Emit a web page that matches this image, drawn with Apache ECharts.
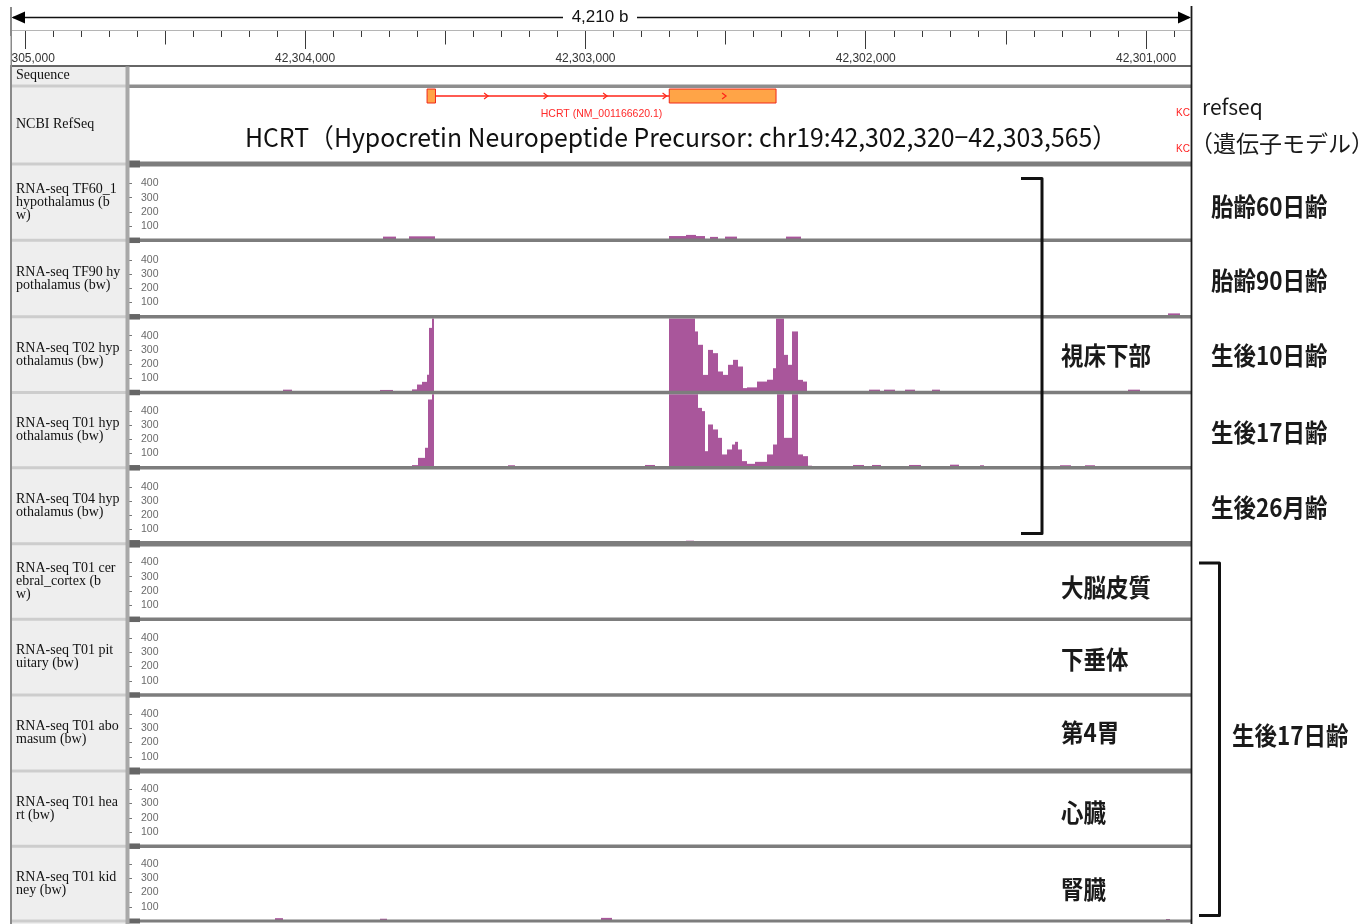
<!DOCTYPE html>
<html><head><meta charset="utf-8">
<script src="https://cdn.jsdelivr.net/npm/echarts@6/dist/echarts.min.js"></script>
<style>html,body{margin:0;padding:0;background:#fff}#c{width:1369px;height:924px}</style>
</head><body><div id="c"></div>
<script>
// ================= DATA =================
const VIEW_START = 42300836;          // genomic position at the right edge (view is reversed)
const VIEW_END   = 42305053;          // genomic position at the left edge
const SPAN_LABEL = '4,210 b';
const RULER_MIN = 42300900, RULER_MAX = 42305000;
const RULER_LABEL_MIN = 42301000;
const MINOR_STEP = 100, MID_STEP = 500, MAJOR_STEP = 1000;
const Y_TICKS = [100, 200, 300, 400];

const GENE_SPAN = [[42302320, 42303565, 0]];
const GENE_EXONS = [[42303535, 42303565], [42302320, 42302701]];
const GENE_INTRONS = [[42302701, 42303565]];
const GENE_NAME = 'HCRT (NM_001166620.1)';
const GENE_TITLE = 'HCRT（Hypocretin Neuropeptide Precursor: chr19:42,302,320−42,303,565）';
const NEIGHBOR_GENE = 'KC';

const TRACK_LABELS = [
  'RNA-seq TF60_1\nhypothalamus (b\nw)',
  'RNA-seq TF90 hy\npothalamus (bw)',
  'RNA-seq T02 hyp\nothalamus (bw)',
  'RNA-seq T01 hyp\nothalamus (bw)',
  'RNA-seq T04 hyp\nothalamus (bw)',
  'RNA-seq T01 cer\nebral_cortex (b\nw)',
  'RNA-seq T01 pit\nuitary (bw)',
  'RNA-seq T01 abo\nmasum (bw)',
  'RNA-seq T01 hea\nrt (bw)',
  'RNA-seq T01 kid\nney (bw)'
];
const OTHER_LABELS = ['Sequence', 'NCBI RefSeq'];

// coverage bins: [start, end, reads]
const cov_TF60_1 = [
  [42303676, 42303722, 26], [42303537, 42303629, 28], [42302641, 42302702, 30],
  [42302606, 42302641, 38], [42302573, 42302606, 30], [42302527, 42302556, 24],
  [42302459, 42302502, 26], [42302231, 42302284, 26]
];
const cov_TF90 = [[42300879, 42300922, 24]];
const cov_T02 = [
  [42304047, 42304079, 20], [42303687, 42303733, 18], [42303602, 42303620, 22],
  [42303584, 42303602, 56], [42303566, 42303584, 75], [42303558, 42303566, 125],
  [42303548, 42303558, 455], [42303540, 42303548, 560],
  [42302609, 42302701, 640], [42302597, 42302609, 430], [42302580, 42302597, 336],
  [42302562, 42302580, 124], [42302544, 42302562, 300], [42302526, 42302544, 277],
  [42302508, 42302526, 148], [42302490, 42302508, 124], [42302473, 42302490, 195],
  [42302455, 42302473, 230], [42302437, 42302455, 183], [42302425, 42302437, 31],
  [42302389, 42302425, 36], [42302353, 42302389, 77], [42302330, 42302353, 90],
  [42302320, 42302330, 171], [42302292, 42302320, 560], [42302276, 42302292, 265],
  [42302262, 42302276, 195], [42302241, 42302262, 430], [42302223, 42302241, 89],
  [42302208, 42302223, 77],
  [42301949, 42301988, 20], [42301896, 42301935, 20], [42301824, 42301860, 20],
  [42301735, 42301764, 20], [42301022, 42301064, 20]
];
const cov_T01_hyp = [
  [42303597, 42303620, 19], [42303573, 42303597, 70], [42303562, 42303573, 141],
  [42303548, 42303562, 481], [42303540, 42303548, 560], [42303251, 42303276, 18],
  [42302752, 42302788, 20],
  [42302597, 42302701, 640], [42302585, 42302597, 422], [42302573, 42302585, 399],
  [42302562, 42302573, 117], [42302544, 42302562, 305], [42302526, 42302544, 270],
  [42302514, 42302526, 211], [42302496, 42302514, 94], [42302478, 42302496, 129],
  [42302466, 42302478, 164], [42302455, 42302466, 183], [42302443, 42302455, 129],
  [42302425, 42302443, 47], [42302395, 42302425, 28], [42302353, 42302395, 42],
  [42302330, 42302353, 94], [42302318, 42302330, 164], [42302292, 42302318, 560],
  [42302262, 42302292, 211], [42302241, 42302262, 560], [42302225, 42302241, 94],
  [42302205, 42302225, 82], [42302193, 42302205, 15],
  [42302006, 42302045, 20], [42301946, 42301978, 20], [42301803, 42301846, 20],
  [42301667, 42301699, 22], [42301578, 42301592, 18], [42301268, 42301307, 18],
  [42301182, 42301218, 18]
];
const cov_T04 = [[42304125, 42304161, 20], [42302613, 42302641, 22]];
const cov_cortex = [];
const cov_pituitary = [];
const cov_abomasum = [];
const cov_heart = [];
const cov_kidney = [[42304079, 42304108, 20], [42303708, 42303733, 16], [42302905, 42302945, 22], [42300914, 42300929, 14]];
const COVERAGE = [cov_TF60_1, cov_TF90, cov_T02, cov_T01_hyp, cov_T04, cov_cortex, cov_pituitary, cov_abomasum, cov_heart, cov_kidney];

const STAGE_LABELS = ['胎齢60日齢', '胎齢90日齢', '生後10日齢', '生後17日齢', '生後26月齢'];
const TISSUE_LABELS = ['大脳皮質', '下垂体', '第4胃', '心臓', '腎臓'];
const GROUP_HYPO = '視床下部';
const GROUP_P17 = '生後17日齢';
const REFSEQ_NOTE = ['refseq', '（遺伝子モデル）'];

// ================= LAYOUT =================
const LEFT = 10, RIGHT = 1192, DATA_LEFT = 128;
const K = (RIGHT - LEFT) / (VIEW_END - VIEW_START);
const px = p => LEFT + (VIEW_END - p) * K;
const DATA_MAX = VIEW_END - (DATA_LEFT - LEFT) / K;
const PX_PER_UNIT = 0.142;
const B  = [164, 240.3, 316.8, 392.5, 467.8, 543.8, 619.3, 695, 771, 846.2, 921];
const BW = [5, 3.5, 3.5, 3.5, 3.5, 5.5, 3.5, 3.5, 5, 3.5, 3];
const STAGE_Y = [206, 280, 355, 432, 507];
const TISSUE_Y = [587, 659, 732, 812, 889];
const COLOR = '#a9569b';
const CJK = '"Noto Sans CJK JP"';

const grids = [], xAxes = [], yAxes = [], series = [];
const gridOf = (left, width, top, height) => ({left, width, top, height, containLabel: false, outerBoundsMode: 'none'});

function rulerAxis(min, max, interval, tickLen, showLabels) {
  const gi = grids.length;
  grids.push(gridOf(px(max), px(min) - px(max), 30.5, 30));
  xAxes.push({gridIndex: gi, type: 'value', min, max, interval, inverse: true, position: 'top',
    axisLine: {show: false, onZero: false}, splitLine: {show: false},
    axisTick: {show: true, inside: true, length: tickLen, lineStyle: {color: '#3a3a3a', width: 1}},
    axisLabel: showLabels ? {show: true, inside: true, margin: 22, fontSize: 12, color: '#333',
      fontFamily: 'Liberation Sans', showMinLabel: true, showMaxLabel: true, hideOverlap: false,
      formatter: v => v.toLocaleString('en-US')} : {show: false}
  });
  yAxes.push({gridIndex: gi, show: false, min: 0, max: 1});
}
rulerAxis(RULER_MIN, RULER_MAX, MINOR_STEP, 6.5, false);
rulerAxis(RULER_LABEL_MIN, RULER_MAX, MID_STEP, 14, false);
rulerAxis(RULER_LABEL_MIN, RULER_MAX, MAJOR_STEP, 18.5, true);

// gene track
const geneGrid = grids.length;
grids.push(gridOf(DATA_LEFT, RIGHT - DATA_LEFT, 88, 73));
xAxes.push({gridIndex: geneGrid, type: 'value', min: VIEW_START, max: DATA_MAX, inverse: true, show: false});
yAxes.push({gridIndex: geneGrid, type: 'value', min: 0, max: 1, show: false});
series.push({
  type: 'custom', xAxisIndex: geneGrid, yAxisIndex: geneGrid, data: GENE_SPAN, silent: true,
  encode: {x: [0, 1], y: 2},
  renderItem(params, api) {
    const cs = params.coordSys;
    const cy = cs.y + 8;
    const a = api.coord([api.value(0), 0])[0], b = api.coord([api.value(1), 0])[0];
    const left = Math.min(a, b), right = Math.max(a, b);
    const ch = [];
    GENE_INTRONS.forEach(([s, e]) => {
      const p = api.coord([s, 0])[0], q = api.coord([e, 0])[0];
      ch.push({type: 'line', shape: {x1: Math.min(p, q), y1: cy, x2: Math.max(p, q), y2: cy},
        style: {stroke: '#ff2418', lineWidth: 1.5}});
    });
    GENE_EXONS.forEach(([s, e]) => {
      const p = api.coord([s, 0])[0], q = api.coord([e, 0])[0];
      ch.push({type: 'rect', shape: {x: Math.min(p, q), y: cy - 7, width: Math.abs(q - p), height: 14},
        style: {fill: '#ffa447', stroke: '#f0281a', lineWidth: 1}});
    });
    for (let x = left + 60; x < right - 20; x += 59.5) {
      ch.push({type: 'polyline', shape: {points: [[x - 3, cy - 3], [x + 1, cy], [x - 3, cy + 3]]},
        style: {stroke: '#ff2418', fill: null, lineWidth: 1.2}});
    }
    ch.push({type: 'text', style: {text: GENE_NAME, x: (left + right) / 2, y: cy + 18, align: 'center',
      verticalAlign: 'middle', fill: '#ff2a2a', font: '10.5px "Liberation Sans"'}});
    return {type: 'group', children: ch};
  }
});

function covRender(params, api) {
  const a = api.coord([api.value(0), api.value(2)]);
  const b = api.coord([api.value(1), 0]);
  const x0 = Math.round(Math.min(a[0], b[0])), x1 = Math.round(Math.max(a[0], b[0]));
  const cs = params.coordSys;
  const shape = echarts.graphic.clipRectByRect(
    {x: x0, y: a[1], width: Math.max(1, x1 - x0), height: b[1] - a[1]},
    {x: cs.x, y: cs.y, width: cs.width, height: cs.height});
  return shape ? {type: 'rect', shape, style: {fill: COLOR}} : null;
}

COVERAGE.forEach((data, i) => {
  const gi = grids.length;
  const top = B[i] + BW[i] / 2, bottom = B[i + 1];
  grids.push(gridOf(DATA_LEFT, RIGHT - DATA_LEFT, top, bottom - top));
  xAxes.push({gridIndex: gi, type: 'value', min: VIEW_START, max: DATA_MAX, inverse: true, show: false});
  yAxes.push({gridIndex: gi, type: 'value', min: 0, max: (bottom - top) / PX_PER_UNIT, position: 'left',
    axisLine: {show: false}, splitLine: {show: false},
    axisTick: {show: true, inside: true, length: 4, customValues: Y_TICKS, lineStyle: {color: '#777'}},
    axisLabel: {show: true, inside: true, margin: 13, customValues: Y_TICKS, fontSize: 10.5,
      color: '#6a6a6a', fontFamily: 'Liberation Sans'}});
  series.push({type: 'custom', xAxisIndex: gi, yAxisIndex: gi, data, silent: true,
    encode: {x: [0, 1], y: 2}, renderItem: covRender});
});

// ================= DECORATION =================
const G = [];
const rect = (x, y, w, h, fill, z) => G.push({type: 'rect', z: z || 1, silent: true, shape: {x, y, width: w, height: h}, style: {fill}});
const line = (x1, y1, x2, y2, stroke, w, z) => G.push({type: 'line', z: z || 5, silent: true, shape: {x1, y1, x2, y2}, style: {stroke, lineWidth: w}});
const text = (t, x, y, font, fill, align, extra) => G.push(Object.assign({type: 'text', z: 30, silent: true, x, y,
  style: {text: t, font, fill, align: align || 'left', verticalAlign: 'middle'}}, extra || {}));

// label column
rect(12, 66.5, 114, 858, '#eeeeee', 0);
// ruler
line(LEFT, 30.5, RIGHT, 30.5, '#b5b5b5', 1, 5);
line(LEFT, 66, RIGHT, 66, '#333', 1.5, 12);
line(13, 17.5, 563, 17.5, '#111', 1.5, 5);
line(637, 17.5, 1189, 17.5, '#111', 1.5, 5);
G.push({type: 'polygon', z: 6, silent: true, shape: {points: [[11.5, 17.5], [25, 11.5], [25, 23.5]]}, style: {fill: '#000'}});
G.push({type: 'polygon', z: 6, silent: true, shape: {points: [[1191, 17.5], [1178, 11.5], [1178, 23.5]]}, style: {fill: '#000'}});
text(SPAN_LABEL, 600, 17.5, '17px "Liberation Sans"', '#111', 'center');
rect(0, 36, 10.5, 29, '#fff', 25);
// sequence / refseq separator
rect(DATA_LEFT, 84.5, RIGHT - DATA_LEFT, 3.5, '#8e8e8e', 10);
rect(12, 84.5, 114, 3, '#cdcdcd', 2);
// track borders
B.forEach((y, i) => {
  rect(DATA_LEFT, y - BW[i] / 2, RIGHT - DATA_LEFT, BW[i], '#7d7d7d', 10);
  rect(129, y - BW[i] / 2 - 1, 11, BW[i] + 2, '#666', 11);
  rect(12, y - 1.5, 114, 3, '#cdcdcd', 2);
});
// frame lines
rect(125.5, 66.5, 4, 858, '#a8a8a8', 12);
line(11, 7, 11, 924, '#8a8a8a', 2, 12);
line(1191.5, 6, 1191.5, 924, '#1a1a1a', 1.8, 12);

// left labels
const SERIF = '14px "Liberation Serif"';
text(OTHER_LABELS[0], 16, 75, SERIF, '#111');
text(OTHER_LABELS[1], 16, 124, SERIF, '#111');
TRACK_LABELS.forEach((t, i) => {
  G.push({type: 'text', z: 30, silent: true, x: 16, y: (B[i] + B[i + 1]) / 2,
    style: {text: t, font: SERIF, lineHeight: 13.2, fill: '#111', align: 'left', verticalAlign: 'middle'}});
});

// refseq row texts
text(GENE_TITLE, 681, 137, '24.8px ' + CJK, '#111', 'center', {scaleY: 1.05});
text(NEIGHBOR_GENE, 1176, 113, '10px "Liberation Sans"', '#ff2020');
text(NEIGHBOR_GENE, 1176, 149, '10px "Liberation Sans"', '#ff2020');
text(REFSEQ_NOTE[0], 1202, 107, '21px ' + CJK, '#1a1a1a');
text(REFSEQ_NOTE[1], 1190, 143, '23px ' + CJK, '#1a1a1a');

// annotations
const TALL = {scaleY: 1.12};
STAGE_LABELS.forEach((t, i) => text(t, 1211, STAGE_Y[i], 'bold 22.5px ' + CJK, '#1a1a1a', 'left', TALL));
TISSUE_LABELS.forEach((t, i) => text(t, 1061, TISSUE_Y[i], 'bold 22.5px ' + CJK, '#1a1a1a', 'left', TALL));
text(GROUP_HYPO, 1061, 355, 'bold 22.5px ' + CJK, '#1a1a1a', 'left', TALL);
text(GROUP_P17, 1232, 735, 'bold 22.5px ' + CJK, '#1a1a1a', 'left', TALL);
// brackets
G.push({type: 'polyline', z: 30, silent: true, shape: {points: [[1021, 178.5], [1042, 178.5], [1042, 533.5], [1021, 533.5]]},
  style: {stroke: '#111', lineWidth: 3, fill: null, lineJoin: 'round'}});
G.push({type: 'polyline', z: 30, silent: true, shape: {points: [[1199, 563], [1219.5, 563], [1219.5, 915.5], [1199, 915.5]]},
  style: {stroke: '#111', lineWidth: 3, fill: null, lineJoin: 'round'}});

const chart = echarts.init(document.getElementById('c'));
chart.setOption({
  animation: false,
  backgroundColor: '#fff',
  grid: grids, xAxis: xAxes, yAxis: yAxes, series,
  graphic: {elements: G}
});
</script>
</body></html>
